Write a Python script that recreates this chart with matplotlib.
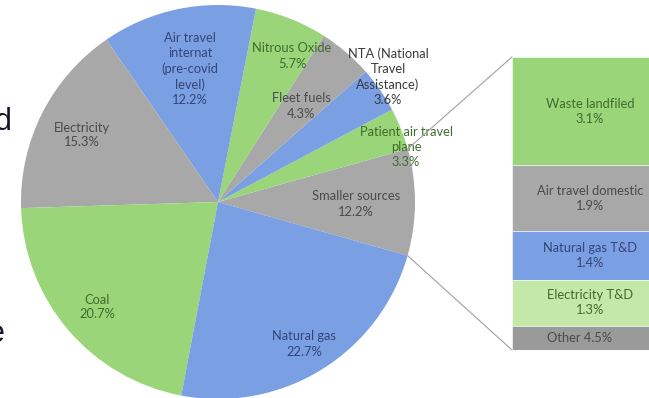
import matplotlib
matplotlib.use("Agg")
import matplotlib.pyplot as plt
from matplotlib.patches import ConnectionPatch
import numpy as np

W, H, DPI = 649, 398, 100
BLUE, GREEN, GREY, LGREEN = "#7b9fe3", "#9bd57a", "#a8a8a8", "#c3e8a8"
T_BLUE, T_GREEN, T_GREY = "#34457a", "#3f6b2c", "#4a4a4a"

# bar of pie: the "Smaller sources" slice is broken out on the right
bar_names = ["Waste landfiled", "Air travel domestic", "Natural gas T&D", "Electricity T&D", "Other"]
bar_printed = [3.1, 1.9, 1.4, 1.3, 4.5]       # percentages written on the bar
bar_values = [3.1, 1.9, 1.4, 1.3, 0.7]        # segment sizes as drawn

# main pie, counter-clockwise from the Natural gas / Smaller sources edge
pie_names = ["Smaller sources", "Patient air travel\nplane", "NTA (National\nTravel\nAssistance)",
             "Fleet fuels", "Nitrous Oxide", "Air travel\ninternat\n(pre-covid\nlevel)",
             "Electricity", "Coal", "Natural gas"]
pie_printed = [12.2, 3.3, 3.6, 4.3, 5.7, 12.2, 15.3, 20.7, 22.7]
pie_values = [sum(bar_values)] + pie_printed[1:]

pie_colors = [GREY, GREEN, BLUE, GREY, GREEN, BLUE, GREY, GREEN, BLUE]
pie_tcolors = [T_GREY, T_GREEN, "#3a3a3a", T_GREY, T_GREEN, T_BLUE, T_GREY, T_GREEN, T_BLUE]
bar_colors = [GREEN, GREY, BLUE, LGREEN, "#9a9a9a"]
bar_tcolors = [T_GREEN, T_GREY, T_BLUE, T_GREEN, T_GREY]

# label centres in pixels (x, y from top)
pie_lpos = [(356, 204), (406, 147), (388, 77), (301, 106), (292, 56),
            (190, 69), (82, 135), (97, 307), (304, 344)]

CX, CY, R = 218, 202, 197

plt.rcParams.update({"font.family": ["Lato", "DejaVu Sans"], "font.size": 9.3})
fig = plt.figure(figsize=(W / DPI, H / DPI), dpi=DPI)
ax = fig.add_axes([0, 0, 1, 1])
wedges, _ = ax.pie(pie_values, colors=pie_colors, startangle=-15.8, counterclock=True,
                   radius=R, center=(CX, H - CY),
                   wedgeprops=dict(edgecolor="none", linewidth=0))
ax.set_xlim(0, W); ax.set_ylim(0, H); ax.set_aspect("equal"); ax.axis("off")

for name, pct, (x, y), c in zip(pie_names, pie_printed, pie_lpos, pie_tcolors):
    ax.text(x, H - y, f"{name}\n{pct}%", ha="center", va="center", color=c,
            linespacing=1.3)

# bar (runs past the right edge, as in the reference)
ax2 = fig.add_axes([512 / W, 1 - 350 / H, 156 / W, 293 / H])
bottom = 0
for v, col in zip(bar_values, bar_colors):
    ax2.bar(0, v, bottom=bottom, width=1, color=col, edgecolor="white", linewidth=0.4)
    bottom += v
total = bottom
ax2.set_xlim(-0.5, 0.5); ax2.set_ylim(total, 0); ax2.axis("off")

bottom = 0
for name, pct, v, c in zip(bar_names, bar_printed, bar_values, bar_tcolors):
    mid = bottom + v / 2
    if v < 1:
        ax2.text(-0.065, mid, f"{name} {pct}%", ha="center", va="center", color=c)
    else:
        ax2.text(0, mid, f"{name}\n{pct}%", ha="center", va="center", color=c,
                 linespacing=1.3)
    bottom += v

# connector lines from the broken-out slice to the bar
w0 = wedges[0]
for ang, yb in [(w0.theta2, 0), (w0.theta1, total)]:
    px = CX + R * np.cos(np.radians(ang))
    py = (H - CY) + R * np.sin(np.radians(ang))
    fig.add_artist(ConnectionPatch(xyA=(px, py), coordsA=ax.transData,
                                   xyB=(-0.5, yb), coordsB=ax2.transData,
                                   color="#a0a0a0", lw=0.8))

# cut-off words on the left edge
fig.text(12 / W, 1 - 130 / H, "d", ha="right", va="baseline", fontsize=22,
         family="Liberation Sans", color="#15152a")
fig.text(5 / W, 1 - 342 / H, "e", ha="right", va="baseline", fontsize=22,
         family="Liberation Sans", color="#15152a")

fig.savefig("out.png", dpi=DPI)
